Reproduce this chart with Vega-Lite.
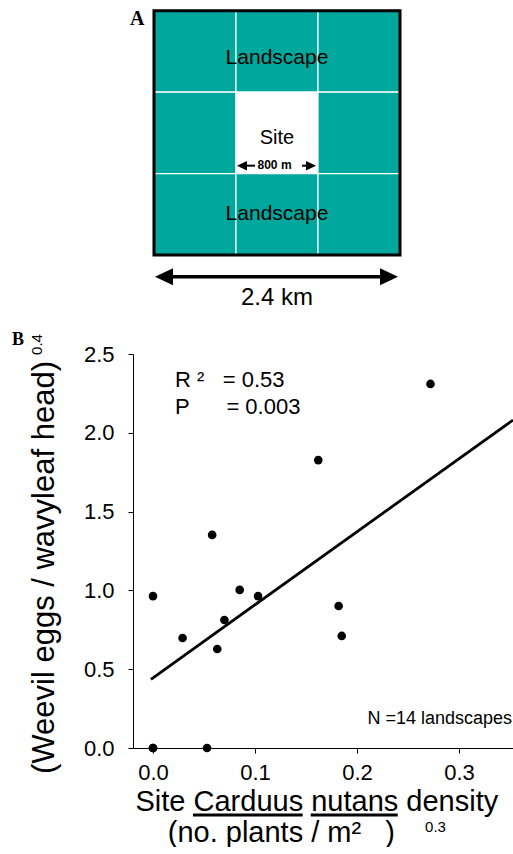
{
  "$schema": "https://vega.github.io/schema/vega-lite/v6.json",
  "autosize": {"type": "pad"},
  "padding": {"left": 12, "top": 0, "right": 0, "bottom": 0},
  "background": "white",
  "bounds": "flush",
  "spacing": 34,
  "config": {
    "view": {"stroke": null},
    "font": "Liberation Sans",
    "axis": {
      "domainColor": "black",
      "tickColor": "black",
      "labelColor": "black",
      "titleColor": "black",
      "grid": false,
      "titleFontWeight": "normal",
      "labelFont": "Liberation Sans",
      "titleFont": "Liberation Sans"
    }
  },
  "datasets": {
    "cells": [
      {"kind": "Landscape", "c0": 0, "c1": 1, "r0": 0, "r1": 1},
      {"kind": "Landscape", "c0": 1, "c1": 2, "r0": 0, "r1": 1},
      {"kind": "Landscape", "c0": 2, "c1": 3, "r0": 0, "r1": 1},
      {"kind": "Landscape", "c0": 0, "c1": 1, "r0": 1, "r1": 2},
      {"kind": "Site", "c0": 1, "c1": 2, "r0": 1, "r1": 2},
      {"kind": "Landscape", "c0": 2, "c1": 3, "r0": 1, "r1": 2},
      {"kind": "Landscape", "c0": 0, "c1": 1, "r0": 2, "r1": 3},
      {"kind": "Landscape", "c0": 1, "c1": 2, "r0": 2, "r1": 3},
      {"kind": "Landscape", "c0": 2, "c1": 3, "r0": 2, "r1": 3}
    ],
    "weevil": [
      {"density": 0.0, "eggs": 0.0},
      {"density": 0.0, "eggs": 0.0},
      {"density": 0.053, "eggs": 0.0},
      {"density": 0.0, "eggs": 0.964},
      {"density": 0.029, "eggs": 0.698},
      {"density": 0.058, "eggs": 1.352},
      {"density": 0.063, "eggs": 0.628},
      {"density": 0.07, "eggs": 0.812},
      {"density": 0.085, "eggs": 1.003},
      {"density": 0.103, "eggs": 0.964},
      {"density": 0.162, "eggs": 1.827},
      {"density": 0.182, "eggs": 0.901},
      {"density": 0.185, "eggs": 0.711},
      {"density": 0.272, "eggs": 2.31}
    ],
    "fit": [
      {"density": -0.002, "eggs": 0.436},
      {"density": 0.3529, "eggs": 2.081}
    ]
  },
  "vconcat": [
    {
      "width": 380,
      "height": 320,
      "data": {"name": "cells"},
      "layer": [
        {
          "mark": {"type": "rect", "stroke": "white", "strokeWidth": 1.2},
          "encoding": {
            "x": {"field": "c0", "type": "quantitative", "scale": {"domain": [-0.256, 4.378], "nice": false, "zero": false}, "axis": null},
            "x2": {"field": "c1"},
            "y": {"field": "r0", "type": "quantitative", "scale": {"domain": [-0.1314, 3.798], "nice": false, "zero": false, "reverse": true}, "axis": null},
            "y2": {"field": "r1"},
            "fill": {"field": "kind", "type": "nominal", "scale": {"domain": ["Landscape", "Site"], "range": ["#00A79D", "#FFFFFF"]}, "legend": null}
          }
        },
        {
          "data": {"values": [{}]},
          "mark": {"type": "rect", "filled": false, "stroke": "black", "strokeWidth": 3},
          "encoding": {
            "x": {"datum": 0}, "x2": {"datum": 3},
            "y": {"datum": 0}, "y2": {"datum": 3}
          }
        },
        {
          "data": {"values": [{}]},
          "mark": {"type": "text", "fontSize": 21, "align": "center", "baseline": "alphabetic", "color": "black"},
          "encoding": {"x": {"datum": 1.5}, "y": {"datum": 0.66}, "text": {"value": "Landscape"}}
        },
        {
          "data": {"values": [{}]},
          "mark": {"type": "text", "fontSize": 20, "align": "center", "baseline": "alphabetic", "color": "black"},
          "encoding": {"x": {"datum": 1.5}, "y": {"datum": 1.637}, "text": {"value": "Site"}}
        },
        {
          "data": {"values": [{}]},
          "mark": {"type": "text", "fontSize": 21, "align": "center", "baseline": "alphabetic", "color": "black"},
          "encoding": {"x": {"datum": 1.5}, "y": {"datum": 2.566}, "text": {"value": "Landscape"}}
        },
        {
          "data": {"values": [{}]},
          "mark": {"type": "text", "fontSize": 12, "fontWeight": "bold", "align": "center", "baseline": "alphabetic", "color": "black"},
          "encoding": {"x": {"datum": 1.47}, "y": {"datum": 1.944}, "text": {"value": "800 m"}}
        },
        {
          "data": {"values": [{}]},
          "mark": {"type": "rule", "color": "black", "strokeWidth": 2},
          "encoding": {"x": {"datum": 1.05}, "x2": {"datum": 1.232}, "y": {"datum": 1.903}}
        },
        {
          "data": {"values": [{}]},
          "mark": {"type": "rule", "color": "black", "strokeWidth": 2},
          "encoding": {"x": {"datum": 1.805}, "x2": {"datum": 1.94}, "y": {"datum": 1.903}}
        },
        {
          "data": {"values": [{}]},
          "mark": {"type": "point", "filled": true, "color": "black", "opacity": 1, "size": 100, "shape": "M-1,0L1,-0.95L1,0.95Z"},
          "encoding": {"x": {"datum": 1.073}, "y": {"datum": 1.903}}
        },
        {
          "data": {"values": [{}]},
          "mark": {"type": "point", "filled": true, "color": "black", "opacity": 1, "size": 100, "shape": "M1,0L-1,-0.95L-1,0.95Z"},
          "encoding": {"x": {"datum": 1.915}, "y": {"datum": 1.903}}
        },
        {
          "data": {"values": [{}]},
          "mark": {"type": "rule", "color": "black", "strokeWidth": 3.3},
          "encoding": {"x": {"datum": 0.15}, "x2": {"datum": 2.85}, "y": {"datum": 3.267}}
        },
        {
          "data": {"values": [{}]},
          "mark": {"type": "point", "filled": true, "color": "black", "opacity": 1, "size": 324, "shape": "M-1,0L1,-0.95L1,0.95Z"},
          "encoding": {"x": {"datum": 0.122}, "y": {"datum": 3.267}}
        },
        {
          "data": {"values": [{}]},
          "mark": {"type": "point", "filled": true, "color": "black", "opacity": 1, "size": 324, "shape": "M1,0L-1,-0.95L-1,0.95Z"},
          "encoding": {"x": {"datum": 2.866}, "y": {"datum": 3.267}}
        },
        {
          "data": {"values": [{}]},
          "mark": {"type": "text", "fontSize": 24, "align": "center", "baseline": "alphabetic", "color": "black"},
          "encoding": {"x": {"datum": 1.5}, "y": {"datum": 3.614}, "text": {"value": "2.4 km"}}
        },
        {
          "data": {"values": [{}]},
          "mark": {"type": "text", "fontSize": 20, "font": "Liberation Serif", "fontWeight": "bold", "align": "left", "baseline": "alphabetic", "color": "black"},
          "encoding": {"x": {"datum": -0.293}, "y": {"datum": 0.176}, "text": {"value": "A"}}
        }
      ]
    },
    {
      "width": 380,
      "height": 394,
      "data": {"name": "weevil"},
      "layer": [
        {
          "mark": {"type": "circle", "size": 75, "color": "black", "opacity": 1},
          "encoding": {
            "x": {
              "field": "density", "type": "quantitative",
              "scale": {"domain": [-0.0196, 0.3529], "nice": false, "zero": false},
              "axis": {
                "values": [0, 0.1, 0.2, 0.3], "format": ".1f",
                "title": ["Site Carduus nutans density", "\u200b\u00a0\u00a0\u00a0\u00a0(no. plants / m²\u00a0\u00a0\u00a0)"],
                "titleX": 2, "titleY": 62, "titleAlign": "left", "titleBaseline": "alphabetic",
                "titleFontSize": 29, "titleLineHeight": 31, "titleLimit": 1000,
                "labelFontSize": 22, "labelPadding": 9, "tickSize": 5
              }
            },
            "y": {
              "field": "eggs", "type": "quantitative",
              "scale": {"domain": [0, 2.5], "nice": false, "zero": false},
              "axis": {
                "values": [0, 0.5, 1, 1.5, 2, 2.5], "format": ".1f",
                "title": "(Weevil eggs / wavyleaf head)",
                "titleAngle": 270, "titleX": -80, "titleY": 213, "titleAlign": "center", "titleBaseline": "alphabetic",
                "titleFontSize": 31, "titleLimit": 1000,
                "labelFontSize": 22, "labelPadding": 14, "tickSize": 5
              }
            }
          }
        },
        {
          "data": {"name": "fit"},
          "mark": {"type": "line", "color": "black", "strokeWidth": 2.8},
          "encoding": {
            "x": {"field": "density", "type": "quantitative"},
            "y": {"field": "eggs", "type": "quantitative"}
          }
        },
        {
          "data": {"values": [{}]},
          "mark": {"type": "text", "fontSize": 22, "align": "left", "baseline": "alphabetic", "color": "black"},
          "encoding": {"x": {"datum": 0.0216}, "y": {"datum": 2.291}, "text": {"value": "R ²\u00a0\u00a0\u00a0= 0.53"}}
        },
        {
          "data": {"values": [{}]},
          "mark": {"type": "text", "fontSize": 22, "align": "left", "baseline": "alphabetic", "color": "black"},
          "encoding": {"x": {"datum": 0.0216}, "y": {"datum": 2.119}, "text": {"value": "P\u00a0\u00a0\u00a0\u00a0\u00a0\u00a0= 0.003"}}
        },
        {
          "data": {"values": [{}]},
          "mark": {"type": "text", "fontSize": 18, "align": "right", "baseline": "alphabetic", "color": "black"},
          "encoding": {"x": {"datum": 0.352}, "y": {"datum": 0.152}, "text": {"value": "N =14 landscapes"}}
        },
        {
          "data": {"values": [{}]},
          "mark": {"type": "text", "fontSize": 15, "angle": 270, "align": "center", "baseline": "alphabetic", "color": "black"},
          "encoding": {"x": {"datum": -0.1088}, "y": {"datum": 2.56}, "text": {"value": "0.4"}}
        },
        {
          "data": {"values": [{}]},
          "mark": {"type": "text", "fontSize": 18, "font": "Liberation Serif", "fontWeight": "bold", "align": "left", "baseline": "alphabetic", "color": "black"},
          "encoding": {"x": {"datum": -0.1382}, "y": {"datum": 2.557}, "text": {"value": "B"}}
        },
        {
          "data": {"values": [{}]},
          "mark": {"type": "text", "fontSize": 15, "align": "left", "baseline": "alphabetic", "color": "black"},
          "encoding": {"x": {"datum": 0.2667}, "y": {"datum": -0.53}, "text": {"value": "0.3"}}
        },
        {
          "data": {"values": [{}]},
          "mark": {"type": "rule", "color": "black", "strokeWidth": 3},
          "encoding": {"x": {"datum": 0.0392}, "x2": {"datum": 0.1467}, "y": {"datum": -0.425}}
        },
        {
          "data": {"values": [{}]},
          "mark": {"type": "rule", "color": "black", "strokeWidth": 3},
          "encoding": {"x": {"datum": 0.1546}, "x2": {"datum": 0.2399}, "y": {"datum": -0.425}}
        }
      ]
    }
  ]
}
